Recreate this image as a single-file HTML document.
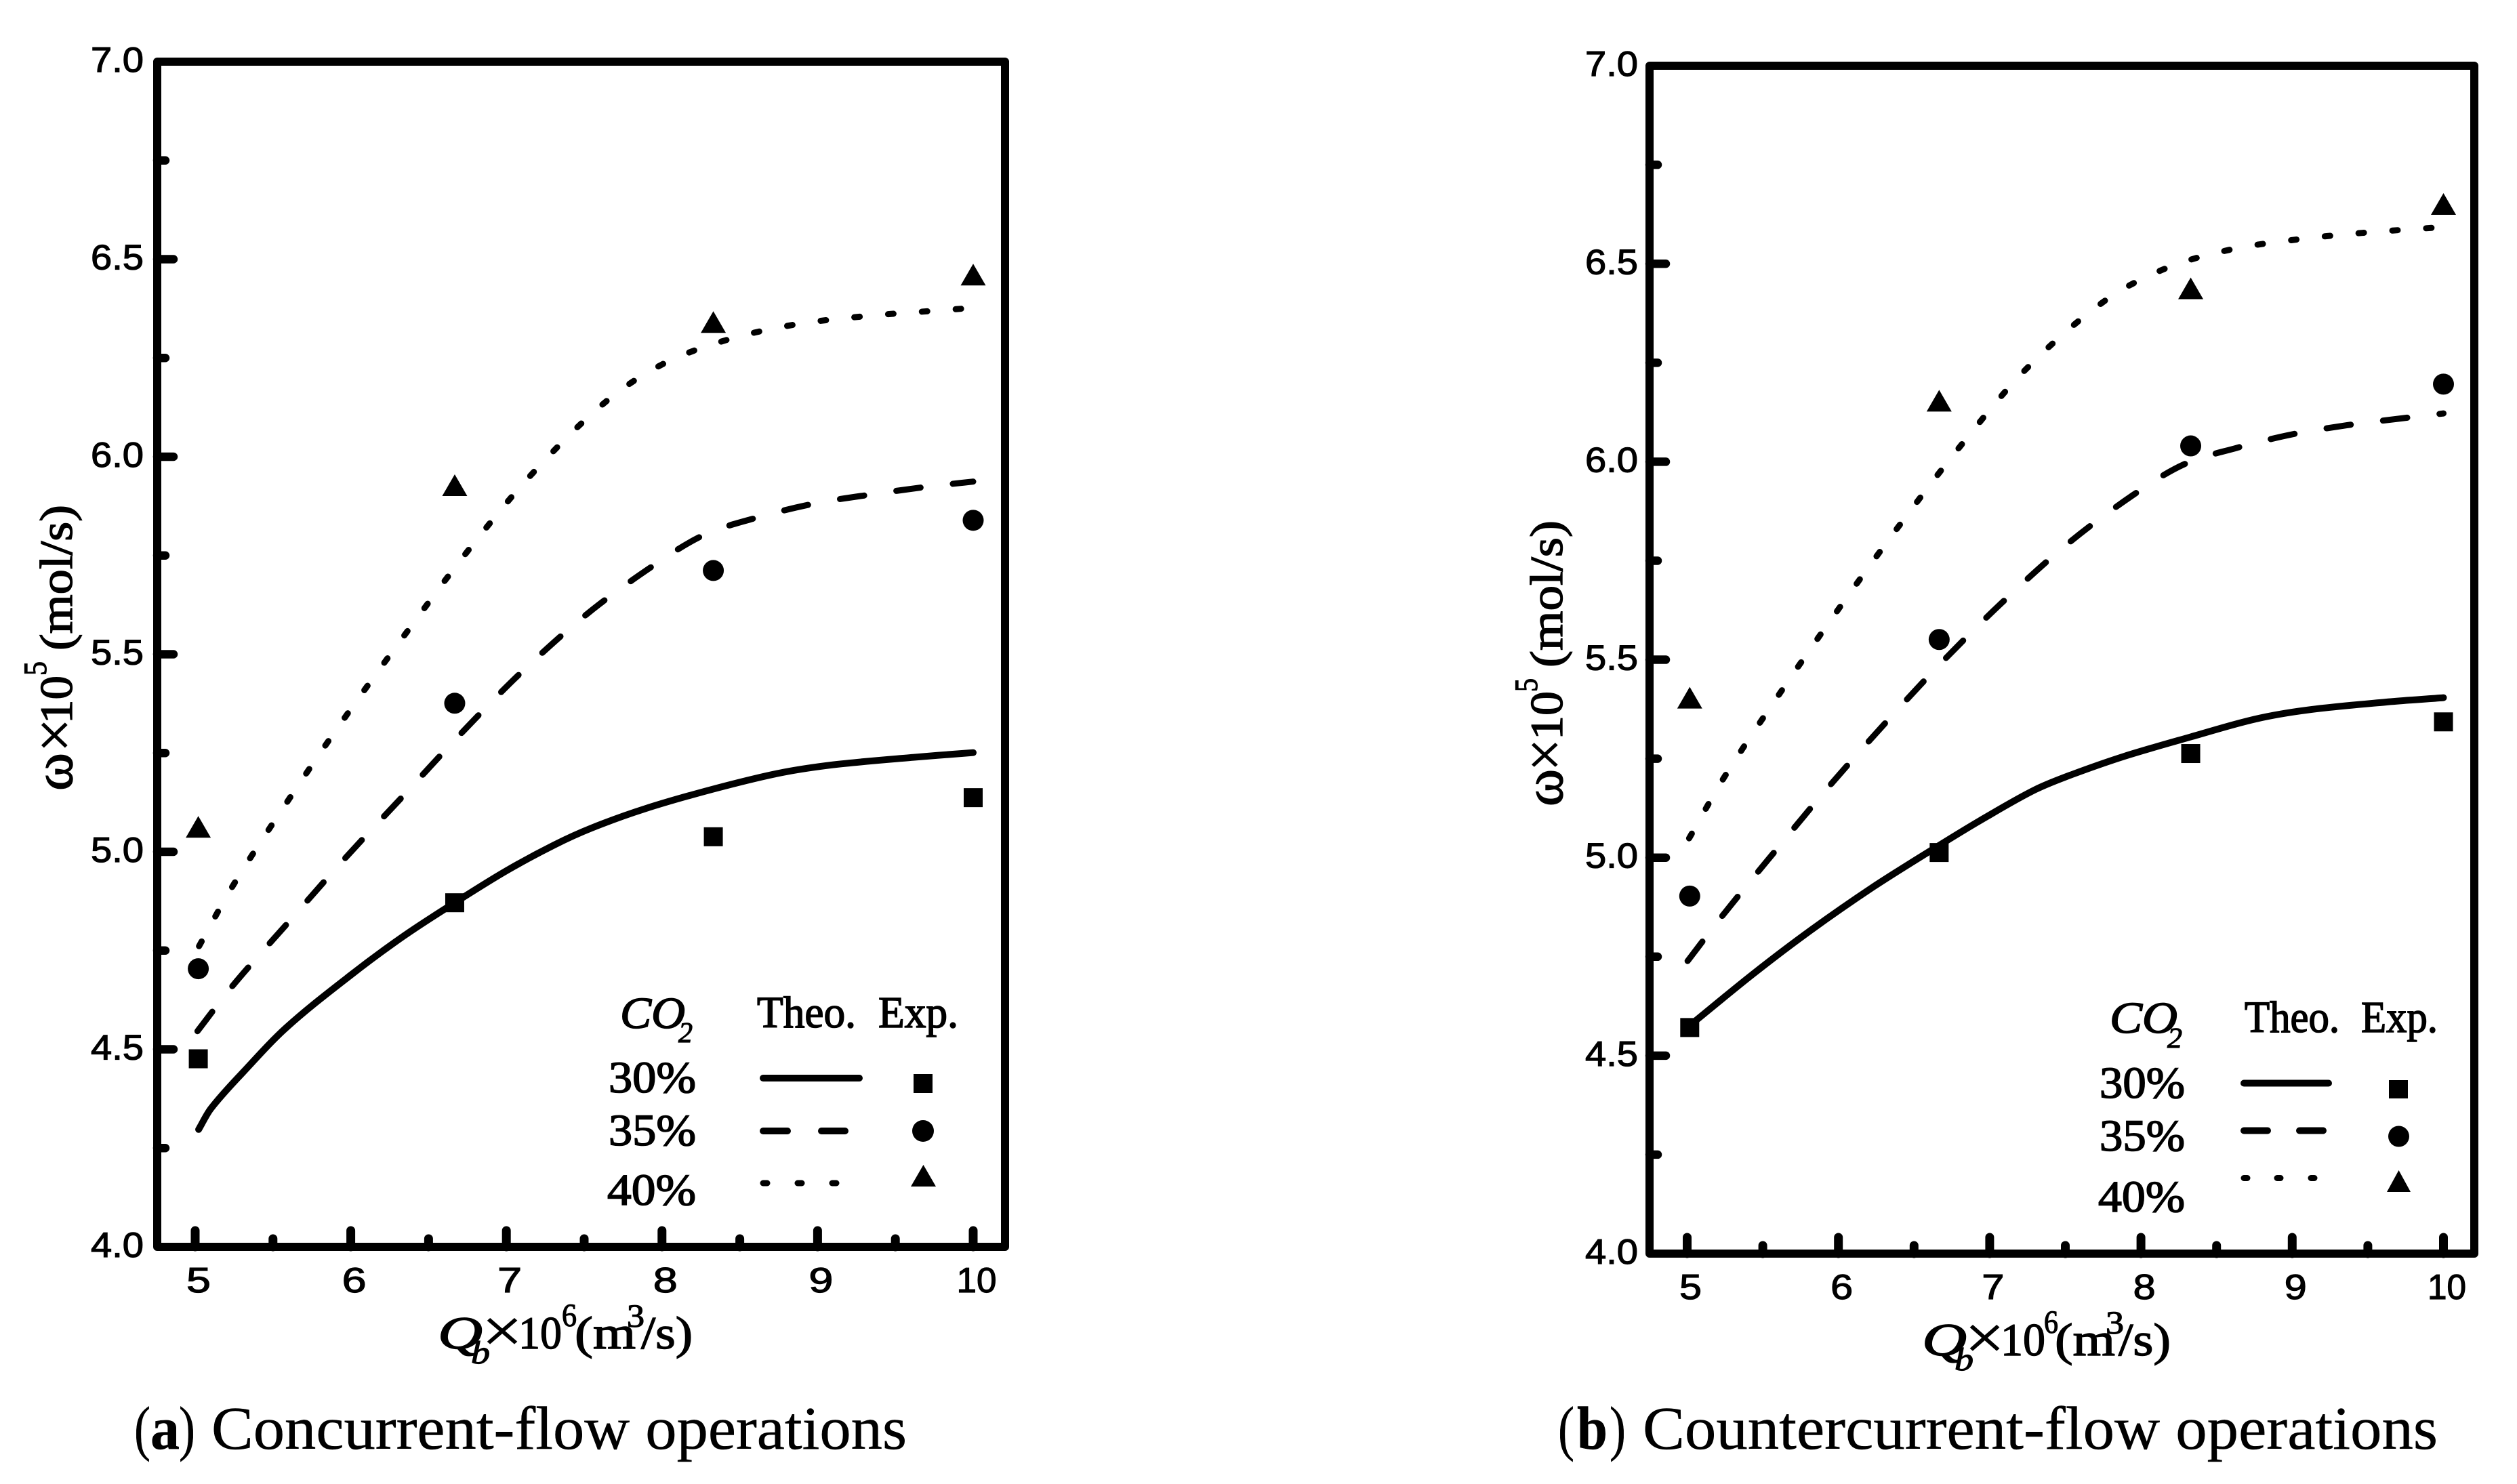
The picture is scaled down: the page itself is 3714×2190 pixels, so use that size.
<!DOCTYPE html>
<html lang="en">
<head>
<meta charset="utf-8">
<title>Absorption rate versus flow rate</title>
<style>
html,body{margin:0;padding:0;background:#fff;}
svg{display:block;}
text{fill:#000;font-family:"Liberation Serif",serif;stroke:#000;stroke-width:1.2px;}
.t{font-size:68px;stroke-width:1.4px;}
.lg{font-size:66px;stroke-width:1.6px;}
.sup{font-size:48px;}
.cap{font-size:90px;stroke-width:0.5px;}
.om{font-size:82px;stroke-width:1.4px;}
.times{font-size:92px;stroke-width:0.8px;}
.it{font-style:italic;}
</style>
</head>
<body>
<svg id="fig" xmlns="http://www.w3.org/2000/svg" width="3714" height="2190" viewBox="0 0 3714 2190">
<rect x="0" y="0" width="3714" height="2190" fill="#fff"/>

<g id="panelA">
  <rect x="232" y="91" width="1251" height="1749" fill="none" stroke="#000" stroke-width="12" stroke-linejoin="round"/>
  <g transform="translate(106 0) rotate(-90)">
    <text class="om" x="-1167" y="0" textLength="56" lengthAdjust="spacingAndGlyphs">ω</text>
    <text class="times" x="-1110" y="5" textLength="50" lengthAdjust="spacingAndGlyphs">×</text>
    <text class="t" x="-1068" y="0" textLength="71" lengthAdjust="spacingAndGlyphs">10</text>
    <text class="sup" x="-997" y="-38" textLength="21" lengthAdjust="spacingAndGlyphs">5</text>
    <text class="t" x="-960" y="0" textLength="215" lengthAdjust="spacingAndGlyphs">(mol/s)</text>
  </g>
  <g>
    <text class="t it" x="646" y="1990" textLength="66" lengthAdjust="spacingAndGlyphs">Q</text>
    <text class="it" font-size="48" x="695" y="2012" textLength="28" lengthAdjust="spacingAndGlyphs">b</text>
    <text class="times" x="711" y="1995" textLength="60" lengthAdjust="spacingAndGlyphs">×</text>
    <text class="t" x="765" y="1990" textLength="64" lengthAdjust="spacingAndGlyphs">10</text>
    <text class="sup" x="829" y="1957" textLength="22" lengthAdjust="spacingAndGlyphs">6</text>
    <text class="t" x="848" y="1990" textLength="90" lengthAdjust="spacingAndGlyphs">(m</text>
    <text class="sup" x="925" y="1958" textLength="26" lengthAdjust="spacingAndGlyphs">3</text>
    <text class="t" x="946" y="1990" textLength="76" lengthAdjust="spacingAndGlyphs">/s)</text>
  </g>
  <g>
    <text class="lg it" x="915" y="1517" textLength="96" lengthAdjust="spacingAndGlyphs">CO</text>
    <text class="it" font-size="42" x="1001" y="1538" textLength="21" lengthAdjust="spacingAndGlyphs">2</text>
    <text class="lg" x="1117" y="1516" textLength="146" lengthAdjust="spacingAndGlyphs">Theo.</text>
    <text class="lg" x="1296" y="1516" textLength="118" lengthAdjust="spacingAndGlyphs">Exp.</text>
    <text class="lg" x="898" y="1612" textLength="129" lengthAdjust="spacingAndGlyphs">30%</text>
    <text class="lg" x="898" y="1690" textLength="129" lengthAdjust="spacingAndGlyphs">35%</text>
    <text class="lg" x="896" y="1778" textLength="131" lengthAdjust="spacingAndGlyphs">40%</text>
    <g stroke="#000" stroke-linecap="round" fill="none">
      <line x1="1126" y1="1591" x2="1268" y2="1591" stroke-width="10"/>
      <line x1="1126" y1="1669" x2="1162" y2="1669" stroke-width="10"/>
      <line x1="1212" y1="1669" x2="1247" y2="1669" stroke-width="10"/>
      <line x1="1126" y1="1746" x2="1132" y2="1746" stroke-width="9"/>
      <line x1="1177" y1="1746" x2="1183" y2="1746" stroke-width="9"/>
      <line x1="1228" y1="1746" x2="1234" y2="1746" stroke-width="9"/>
    </g>
    <rect x="1348" y="1585" width="28" height="28" fill="#000"/>
    <circle cx="1362" cy="1669" r="16" fill="#000"/>
    <polygon points="1362.5,1719 1381,1751 1344,1751" fill="#000"/>
  </g>
  <g>
    <text class="cap" x="198" y="2138" textLength="24" lengthAdjust="spacingAndGlyphs">(</text>
    <text class="cap" x="222" y="2138" font-weight="bold" textLength="43" lengthAdjust="spacingAndGlyphs">a</text>
    <text class="cap" x="264" y="2138" textLength="24" lengthAdjust="spacingAndGlyphs">)</text>
    <text class="cap" x="312" y="2138" textLength="1026" lengthAdjust="spacingAndGlyphs">Concurrent-flow operations</text>
  </g>
</g>

<g id="panelB">
  <rect x="2434" y="97" width="1217" height="1753" fill="none" stroke="#000" stroke-width="12" stroke-linejoin="round"/>
  <g transform="translate(2305 0) rotate(-90)">
    <text class="om" x="-1190" y="0" textLength="55" lengthAdjust="spacingAndGlyphs">ω</text>
    <text class="times" x="-1138" y="5" textLength="48" lengthAdjust="spacingAndGlyphs">×</text>
    <text class="t" x="-1092" y="0" textLength="72" lengthAdjust="spacingAndGlyphs">10</text>
    <text class="sup" x="-1021" y="-37" textLength="20" lengthAdjust="spacingAndGlyphs">5</text>
    <text class="t" x="-985" y="0" textLength="217" lengthAdjust="spacingAndGlyphs">(mol/s)</text>
  </g>
  <g>
    <text class="t it" x="2836" y="2000" textLength="66" lengthAdjust="spacingAndGlyphs">Q</text>
    <text class="it" font-size="48" x="2884" y="2022" textLength="28" lengthAdjust="spacingAndGlyphs">b</text>
    <text class="times" x="2899" y="2005" textLength="59" lengthAdjust="spacingAndGlyphs">×</text>
    <text class="t" x="2952" y="2000" textLength="66" lengthAdjust="spacingAndGlyphs">10</text>
    <text class="sup" x="3016" y="1967" textLength="21" lengthAdjust="spacingAndGlyphs">6</text>
    <text class="t" x="3032" y="2000" textLength="89" lengthAdjust="spacingAndGlyphs">(m</text>
    <text class="sup" x="3107" y="1968" textLength="27" lengthAdjust="spacingAndGlyphs">3</text>
    <text class="t" x="3126" y="2000" textLength="77" lengthAdjust="spacingAndGlyphs">/s)</text>
  </g>
  <g>
    <text class="lg it" x="3113" y="1524" textLength="100" lengthAdjust="spacingAndGlyphs">CO</text>
    <text class="it" font-size="42" x="3198" y="1546" textLength="22" lengthAdjust="spacingAndGlyphs">2</text>
    <text class="lg" x="3312" y="1523" textLength="140" lengthAdjust="spacingAndGlyphs">Theo.</text>
    <text class="lg" x="3484" y="1523" textLength="113" lengthAdjust="spacingAndGlyphs">Exp.</text>
    <text class="lg" x="3098" y="1620" textLength="126" lengthAdjust="spacingAndGlyphs">30%</text>
    <text class="lg" x="3098" y="1698" textLength="126" lengthAdjust="spacingAndGlyphs">35%</text>
    <text class="lg" x="3096" y="1788" textLength="128" lengthAdjust="spacingAndGlyphs">40%</text>
    <g stroke="#000" stroke-linecap="round" fill="none">
      <line x1="3311" y1="1598.5" x2="3436" y2="1598.5" stroke-width="10"/>
      <line x1="3311" y1="1668.5" x2="3346" y2="1668.5" stroke-width="10"/>
      <line x1="3393" y1="1668.5" x2="3428" y2="1668.5" stroke-width="10"/>
      <line x1="3311" y1="1738.5" x2="3316" y2="1738.5" stroke-width="9"/>
      <line x1="3360" y1="1738.5" x2="3365" y2="1738.5" stroke-width="9"/>
      <line x1="3410" y1="1738.5" x2="3415" y2="1738.5" stroke-width="9"/>
    </g>
    <rect x="3525" y="1594" width="28" height="27" fill="#000"/>
    <circle cx="3539.5" cy="1677" r="15.5" fill="#000"/>
    <polygon points="3539.5,1727 3557,1759 3522,1759" fill="#000"/>
  </g>
  <g>
    <text class="cap" x="2299" y="2138" textLength="24" lengthAdjust="spacingAndGlyphs">(</text>
    <text class="cap" x="2327" y="2138" font-weight="bold" textLength="45" lengthAdjust="spacingAndGlyphs">b</text>
    <text class="cap" x="2375" y="2138" textLength="24" lengthAdjust="spacingAndGlyphs">)</text>
    <text class="cap" x="2424" y="2138" textLength="1173" lengthAdjust="spacingAndGlyphs">Countercurrent-flow operations</text>
  </g>
</g>
</svg>

<script>
// ---- shared tick data ----
const xTickLabels = ["5","6","7","8","9","10"];
const xMinorTicks = [5.5,6.5,7.5,8.5,9.5];
const yTickLabels = ["4.0","4.5","5.0","5.5","6.0","6.5","7.0"];
const yMinorTicks = [4.25,4.75,5.25,5.75,6.25,6.75];

// ---- panel (a) concurrent-flow: experimental points ----
const expXA = [5.02,6.668,8.33,10.0];
const exp30A = [4.476,4.871,5.038,5.137];
const exp35A = [4.704,5.376,5.712,5.839];
const exp40A = [5.063,5.928,6.341,6.461];

// ---- panel (a): theoretical curves ----
const theo30XA = [5.022,5.101,5.308,5.583,5.997,6.341,6.668,6.996,7.306,7.547,7.891,8.332,8.752,9.097,9.614,10.0];
const theo30YA = [4.297,4.350,4.442,4.554,4.687,4.787,4.871,4.951,5.017,5.060,5.109,5.159,5.199,5.220,5.239,5.251];
const theo35XA = [5.015,5.239,5.600,5.962,6.331,6.703,7.085,7.512,7.943,8.270,8.621,8.987,9.355,9.724,10.0];
const theo35YA = [4.546,4.660,4.822,4.983,5.139,5.297,5.450,5.600,5.724,5.802,5.847,5.882,5.905,5.925,5.937];
const theo40XA = [5.025,5.239,5.594,5.962,6.345,6.741,7.154,7.626,7.998,8.411,8.845,9.286,9.731,9.975];
const theo40YA = [4.761,4.912,5.128,5.340,5.548,5.756,5.952,6.135,6.233,6.295,6.334,6.355,6.369,6.376];

// ---- panel (b) countercurrent-flow: experimental points ----
const expXB = [5.017,6.666,8.329,10.0];
const exp30B = [4.571,5.013,5.263,5.343];
const exp35B = [4.903,5.551,6.040,6.196];
const exp40B = [5.404,6.154,6.438,6.651];

// ---- panel (b): theoretical curves ----
const theo30XB = [5.017,5.435,5.815,6.230,6.666,6.991,7.302,7.544,7.890,8.329,8.755,9.100,9.619,10.0];
const theo30YB = [4.576,4.706,4.816,4.926,5.031,5.106,5.172,5.210,5.256,5.305,5.350,5.373,5.393,5.404];
const theo35XB = [5.003,5.228,5.580,5.936,6.310,6.690,7.081,7.510,7.952,8.288,8.634,8.997,9.360,9.733,10.0];
const theo35YB = [4.739,4.851,5.016,5.179,5.340,5.496,5.644,5.791,5.917,5.994,6.035,6.069,6.092,6.110,6.122];
const theo40XB = [5.013,5.248,5.618,5.999,6.389,6.797,7.233,7.745,8.149,8.582,9.024,9.463,9.930];
const theo40YB = [5.049,5.205,5.418,5.627,5.832,6.035,6.231,6.402,6.486,6.535,6.561,6.578,6.591];

const NS = 'http://www.w3.org/2000/svg';

function make(tag, parent, attrs) {
  const el = document.createElementNS(NS, tag);
  for (const k in attrs) el.setAttribute(k, attrs[k]);
  parent.appendChild(el);
  return el;
}

// Cubic Hermite through points, with tangents scaled to each segment's real width.
function smoothPath(pts) {
  const n = pts.length;
  const m = pts.map(function (p, i) {
    const a = pts[Math.max(0, i - 1)], b = pts[Math.min(n - 1, i + 1)];
    return (b[1] - a[1]) / (b[0] - a[0]);
  });
  let d = 'M' + pts[0][0].toFixed(1) + ' ' + pts[0][1].toFixed(1);
  for (let i = 0; i < n - 1; i++) {
    const p1 = pts[i], p2 = pts[i + 1], h = (p2[0] - p1[0]) / 3;
    d += 'C' + (p1[0] + h).toFixed(1) + ' ' + (p1[1] + m[i] * h).toFixed(1) + ' ' + (p2[0] - h).toFixed(1) + ' ' + (p2[1] - m[i + 1] * h).toFixed(1) + ' ' + p2[0].toFixed(1) + ' ' + p2[1].toFixed(1);
  }
  return d;
}

function drawPanel(cfg) {
  const root = document.getElementById(cfg.id);
  const sx = v => cfg.x5 + (v - 5) * cfg.xUnit;
  const sy = v => cfg.y4 - (v - 4) * cfg.yUnit;
  const inner = 6;

  // x ticks
  xTickLabels.forEach(function (lab) {
    const v = parseFloat(lab);
    const tick = make('line', root, {x1: sx(v), x2: sx(v), y1: cfg.y4, y2: cfg.y4 - inner - 18, stroke: '#000', 'stroke-width': 13, 'stroke-linecap': 'round'});
    
    
    const t = make('text', root, {x: sx(v) + cfg.xLabelDx - (lab.length > 1 ? cfg.xLabelW2 / 2 : cfg.xLabelW1 / 2), y: cfg.y4 + 67, 'font-size': 52, textLength: lab.length > 1 ? cfg.xLabelW2 : cfg.xLabelW1, lengthAdjust: 'spacingAndGlyphs', style: 'font-family:"Liberation Sans",sans-serif'});
    t.textContent = lab;
    
    
  });
  xMinorTicks.forEach(function (v) {
    const tick = make('line', root, {x1: sx(v), x2: sx(v), y1: cfg.y4, y2: cfg.y4 - inner - 6, stroke: '#000', 'stroke-width': 13, 'stroke-linecap': 'round'});
    
    
  });

  // y ticks
  yTickLabels.forEach(function (lab) {
    const v = parseFloat(lab);
    if (v > 4 && v < 7) {
      const tick = make('line', root, {x1: cfg.left, x2: cfg.left + inner + 18, y1: sy(v), y2: sy(v), stroke: '#000', 'stroke-width': 12.5, 'stroke-linecap': 'round'});
      
      
    }
    const t = make('text', root, {x: cfg.yLabelX, y: sy(v) + 15, 'font-size': 52, textLength: 78, lengthAdjust: 'spacingAndGlyphs', style: 'font-family:"Liberation Sans",sans-serif'});
    t.textContent = lab;
    
    
  });
  yMinorTicks.forEach(function (v) {
    const tick = make('line', root, {x1: cfg.left, x2: cfg.left + inner + 6, y1: sy(v), y2: sy(v), stroke: '#000', 'stroke-width': 12.5, 'stroke-linecap': 'round'});
    
    
  });

  // theoretical curves
  cfg.curves.forEach(function (c) {
    const pts = c.xs.map((x, i) => [sx(x), sy(c.ys[i])]);
    const attrs = {d: smoothPath(pts), fill: 'none', stroke: '#000', 'stroke-width': c.w, 'stroke-linecap': 'round'};
    if (c.dash) attrs['stroke-dasharray'] = c.dash;
    const p = make('path', root, attrs);
    
    
  });

  // experimental markers
  cfg.expX.forEach(function (x, i) {
    const cx = sx(x);
    const sq = make('rect', root, {x: cx - 14, y: sy(cfg.exp30[i]) - 14, width: 28, height: 28, fill: '#000'});
    
    
    const ci = make('circle', root, {cx: cx, cy: sy(cfg.exp35[i]), r: 15.5, fill: '#000'});
    
    
    const cy = sy(cfg.exp40[i]);
    const tr = make('polygon', root, {points: cx + ',' + (cy - 16) + ' ' + (cx + 18.5) + ',' + (cy + 16) + ' ' + (cx - 18.5) + ',' + (cy + 16), fill: '#000'});
    
    
  });
}

drawPanel({
  id: 'panelA', x5: 288, xUnit: 229.6, y4: 1840, yUnit: 583, left: 232, yLabelX: 134,
  xLabelDx: 5, xLabelW1: 36, xLabelW2: 59,
  expX: expXA, exp30: exp30A, exp35: exp35A, exp40: exp40A,
  curves: [
    {name: 'theo-30-curve-a', xs: theo30XA, ys: theo30YA, w: 10},
    {name: 'theo-35-curve-a', xs: theo35XA, ys: theo35YA, w: 9, dash: '36 48'},
    {name: 'theo-40-curve-a', xs: theo40XA, ys: theo40YA, w: 9, dash: '8 42'}
  ]
});

drawPanel({
  id: 'panelB', x5: 2489.5, xUnit: 223.2, y4: 1850, yUnit: 584.3, left: 2434, yLabelX: 2339,
  xLabelDx: 5, xLabelW1: 33, xLabelW2: 57,
  expX: expXB, exp30: exp30B, exp35: exp35B, exp40: exp40B,
  curves: [
    {name: 'theo-30-curve-b', xs: theo30XB, ys: theo30YB, w: 10},
    {name: 'theo-35-curve-b', xs: theo35XB, ys: theo35YB, w: 9, dash: '36 48'},
    {name: 'theo-40-curve-b', xs: theo40XB, ys: theo40YB, w: 9, dash: '8 42'}
  ]
});
</script>
</body>
</html>
